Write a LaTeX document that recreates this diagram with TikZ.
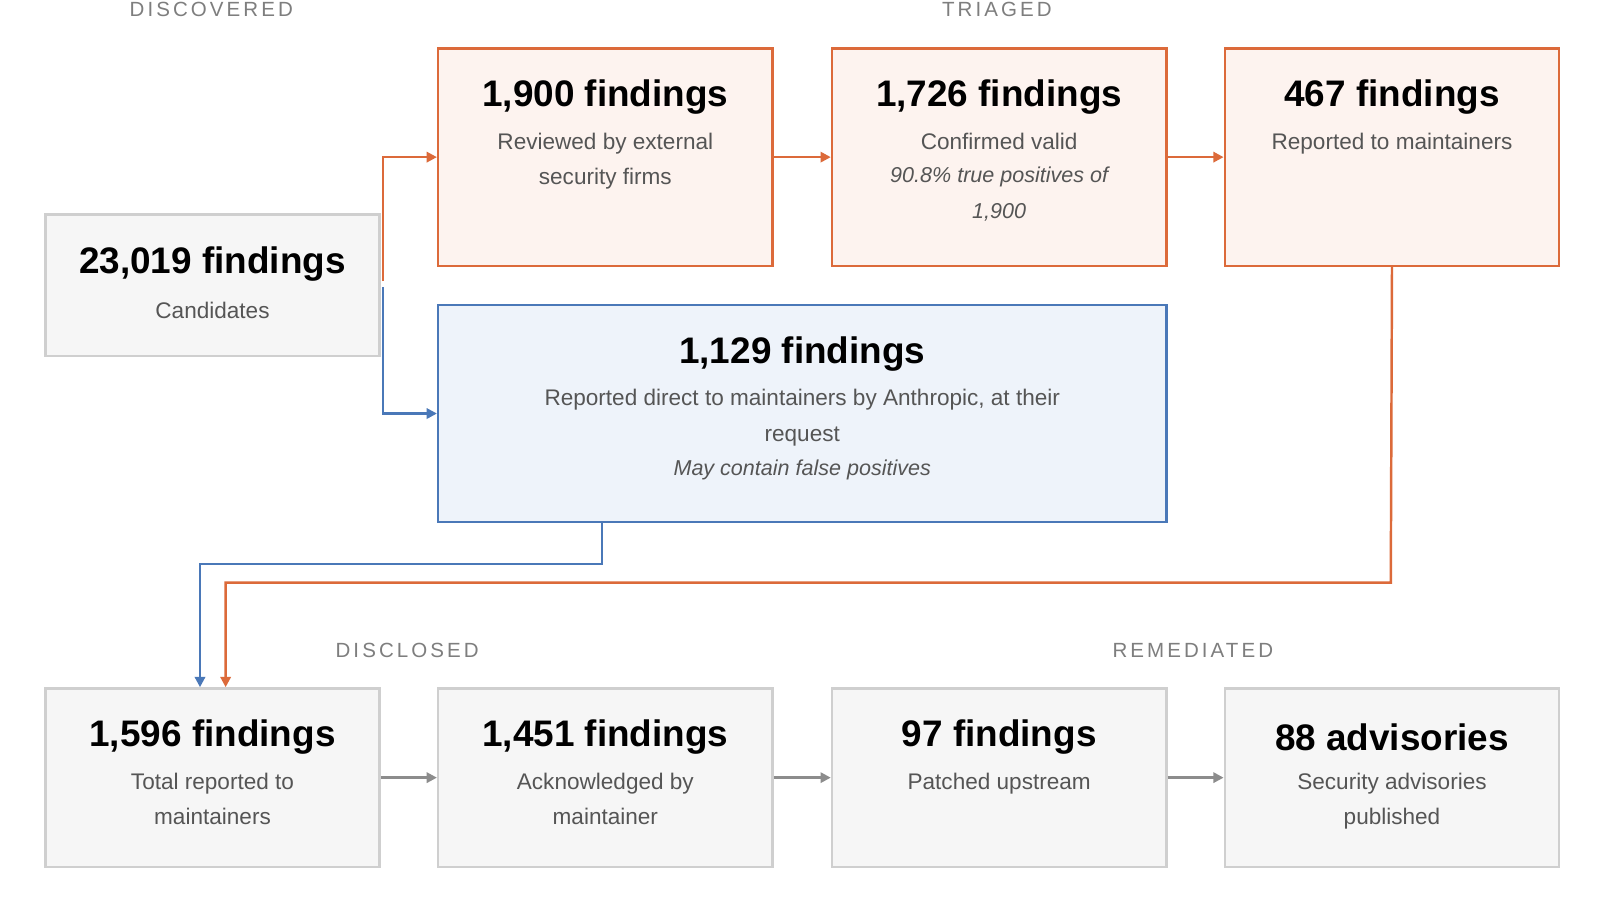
\documentclass[tikz,border=0pt]{standalone}
\usepackage{fontspec}
\setmainfont{Liberation Sans}
\usetikzlibrary{arrows.meta}
\definecolor{orng}{HTML}{DC6A3A}
\definecolor{orngfill}{HTML}{FDF3EF}
\definecolor{blu}{HTML}{4A78B8}
\definecolor{blufill}{HTML}{EEF3FA}
\definecolor{gryline}{HTML}{CFCFCF}
\definecolor{gryfill}{HTML}{F6F6F6}
\definecolor{gryarrow}{HTML}{8C8C8C}
\definecolor{gtext}{HTML}{555555}
\tikzset{
    boxo/.style={rectangle, draw=orng, fill=orngfill, line width=1.2pt, anchor=north west, inner sep=0pt},
    boxb/.style={rectangle, draw=blu, fill=blufill, line width=1.2pt, anchor=north west, inner sep=0pt},
    boxg/.style={rectangle, draw=gryline, fill=gryfill, line width=1.2pt, anchor=north west, inner sep=0pt},
    ttl/.style={font=\fontsize{18}{20}\selectfont\bfseries, inner sep=0pt},
    txt/.style={font=\fontsize{11}{17.5}\selectfont, text=gtext, align=center, anchor=north, inner sep=0pt},
    stage/.style={font=\fontsize{10}{12}\selectfont\addfontfeature{LetterSpace=15}, text=gryarrow!90!black, inner sep=0pt},
    lo/.style={draw=orng, line width=1.2pt, -{Triangle[length=5pt,width=5pt]}},
    lb/.style={draw=blu, line width=1.2pt, -{Triangle[length=5pt,width=5pt]}},
    lg/.style={draw=gryarrow, line width=1.2pt, -{Triangle[length=5pt,width=5pt]}}
}
\begin{document}
\begin{tikzpicture}[x=0.5pt,y=-0.5pt]
      \useasboundingbox[fill=white] (0,0) rectangle (1560,877.5);
      % stage labels
      \node[stage] (s1) at (206,9) {DISCOVERED};
      \node[stage] (s2) at (972,9) {TRIAGED};
      \node[stage] (s3) at (397,634) {DISCLOSED};
      \node[stage] (s4) at (1163,634) {REMEDIATED};
      % boxes
      \node[boxg, minimum width=163pt, minimum height=69pt] (cand) at (43,208) {};
      \node[boxo, minimum width=163pt, minimum height=106pt] (rev) at (426,46) {};
      \node[boxo, minimum width=163pt, minimum height=106pt] (conf) at (810,46) {};
      \node[boxo, minimum width=163pt, minimum height=106pt] (rep) at (1193,46) {};
      \node[boxb, minimum width=355pt, minimum height=106pt] (dir) at (426,296) {};
      \node[boxg, minimum width=163pt, minimum height=87pt] (tot) at (43,670) {};
      \node[boxg, minimum width=163pt, minimum height=87pt] (ack) at (426,670) {};
      \node[boxg, minimum width=163pt, minimum height=87pt] (pat) at (810,670) {};
      \node[boxg, minimum width=163pt, minimum height=87pt] (adv) at (1193,670) {};
      % texts
      \node[ttl] (cand-t) at ([yshift=-24.5pt]cand.north) {23,019 findings};
      \node[txt] (cand-x) at ([yshift=-43pt]cand.north) {Candidates};
      \node[ttl] (rev-t) at ([yshift=-24.5pt]rev.north) {1,900 findings};
      \node[txt] (rev-x) at ([yshift=-41.5pt]rev.north) {Reviewed by external\\security firms};
      \node[ttl] (conf-t) at ([yshift=-24.5pt]conf.north) {1,726 findings};
      \node[txt] (conf-x) at ([yshift=-41.5pt]conf.north) {Confirmed valid\\[-1pt]{\fontsize{10.5}{17.5}\selectfont\itshape 90.8\% true positives of}\\{\fontsize{10.5}{17.5}\selectfont\itshape 1,900}};
      \node[ttl] (rep-t) at ([yshift=-24.5pt]rep.north) {467 findings};
      \node[txt] (rep-x) at ([yshift=-41.5pt]rep.north) {Reported to maintainers};
      \node[ttl] (dir-t) at ([yshift=-24.5pt]dir.north) {1,129 findings};
      \node[txt] (dir-x) at ([yshift=-41.5pt]dir.north) {Reported direct to maintainers by Anthropic, at their\\request\\[-1pt]{\fontsize{10.5}{17.5}\selectfont\itshape May contain false positives}};
      \node[ttl] (tot-t) at ([yshift=-24.5pt]tot.north) {1,596 findings};
      \node[txt] (tot-x) at ([yshift=-41.5pt]tot.north) {Total reported to\\maintainers};
      \node[ttl] (ack-t) at ([yshift=-24.5pt]ack.north) {1,451 findings};
      \node[txt] (ack-x) at ([yshift=-41.5pt]ack.north) {Acknowledged by\\maintainer};
      \node[ttl] (pat-t) at ([yshift=-24.5pt]pat.north) {97 findings};
      \node[txt] (pat-x) at ([yshift=-41.5pt]pat.north) {Patched upstream};
      \node[ttl] (adv-t) at ([yshift=-24.5pt]adv.north) {88 advisories};
      \node[txt] (adv-x) at ([yshift=-41.5pt]adv.north) {Security advisories\\published};
      % connectors
      \draw[lo] ([xshift=1pt,yshift=-33pt]cand.north east) |- (rev.west);
      \draw[lb] ([xshift=1pt,yshift=-36pt]cand.north east) |- (dir.west);
      \draw[lo] (rev.east) -- (rev.east -| conf.west);
      \draw[lo] (conf.east) -- (conf.east -| rep.west);
      \draw[lb] (dir.south -| 587,0) -- (587,550) -- (195,550) -- (tot.north -| 195,0);
      \draw[lo] (rep.south) -- (1356,568) -- (220,568) -- (tot.north -| 220,0);
      \draw[lg] (tot.east) -- (ack.west);
      \draw[lg] (ack.east) -- (pat.west);
      \draw[lg] (pat.east) -- (adv.west);
\end{tikzpicture}
\end{document}
